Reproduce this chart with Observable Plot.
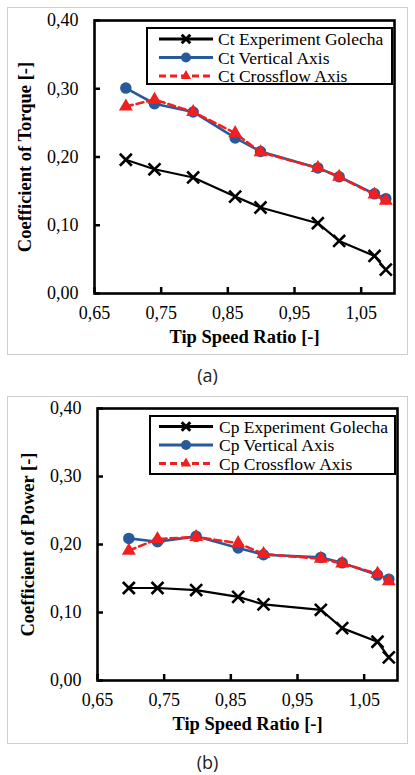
<!DOCTYPE html>
<html>
<head>
<meta charset="utf-8">
<script src="https://cdn.jsdelivr.net/npm/d3@7"></script>
<script src="https://cdn.jsdelivr.net/npm/@observablehq/plot@0.6"></script>
<style>
  html, body { margin: 0; padding: 0; background: #fff; }
  #wrap { position: relative; width: 415px; height: 775px; overflow: hidden; }
  .panel { position: absolute; left: 7px; width: 399px; height: 346px; border: 1px solid #cfcfcf; box-sizing: content-box; }
  .chart { position: absolute; left: 0; }
  .cap { position: absolute; left: 0; width: 415px; text-align: center; font-family: "Open Sans", sans-serif; font-size: 18px; color: #222; line-height: 20px; }
</style>
</head>
<body>
<div id="wrap">
  <div class="panel" style="top:7px"></div>
  <div class="panel" style="top:396px"></div>
  <div id="chartA" class="chart" style="top:0px"></div>
  <div class="cap" style="top:365px">(a)</div>
  <div id="chartB" class="chart" style="top:389px"></div>
  <div class="cap" style="top:752px">(b)</div>
</div>
<script>
// ---- data ----
const tsr = [0.697, 0.740, 0.798, 0.861, 0.899, 0.985, 1.017, 1.070, 1.087];

const ctExperiment = [0.196, 0.182, 0.170, 0.142, 0.126, 0.103, 0.077, 0.055, 0.035];
const ctVertical   = [0.301, 0.278, 0.266, 0.228, 0.208, 0.184, 0.171, 0.146, 0.139];
const ctCrossflow  = [0.274, 0.284, 0.266, 0.235, 0.207, 0.184, 0.171, 0.145, 0.136];

const cpExperiment = [0.136, 0.136, 0.133, 0.123, 0.112, 0.104, 0.077, 0.057, 0.034];
const cpVertical   = [0.209, 0.204, 0.212, 0.195, 0.185, 0.181, 0.173, 0.155, 0.149];
const cpCrossflow  = [0.191, 0.208, 0.211, 0.202, 0.186, 0.179, 0.172, 0.157, 0.146];

const xTicks = [0.65, 0.75, 0.85, 0.95, 1.05];
const yTicks = [0.00, 0.10, 0.20, 0.30, 0.40];

const ctNames = ["Ct Experiment Golecha", "Ct Vertical Axis", "Ct Crossflow Axis"];
const cpNames = ["Cp Experiment Golecha", "Cp Vertical Axis", "Cp Crossflow Axis"];

const xLabel = "Tip Speed Ratio [-]";
const ctLabel = "Coefficient of Torque [-]";
const cpLabel = "Coefficient of Power [-]";

// ---- styles ----
const BLACK = "#000000", BLUE = "#285a9b", RED = "#f02020";
const SERIF = "'Liberation Serif', 'Times New Roman', serif";
const fmt = d => d.toFixed(2).replace(".", ",");

function build(el, {names, exp, vert, cross, yLab, mTop, mBottom, mLeft, mRight, legend}) {
  const rows = (vals, s) => tsr.map((x, i) => ({x, y: vals[i], s}));
  const dExp = rows(exp, names[0]), dVert = rows(vert, names[1]), dCross = rows(cross, names[2]);
  const chart = Plot.plot({
    width: 415, height: 360,
    marginTop: mTop, marginBottom: mBottom, marginLeft: mLeft, marginRight: mRight,
    style: {fontFamily: SERIF, fontSize: "18px", background: "transparent", color: "#000"},
    x: {domain: [0.65, 1.10]},
    y: {domain: [0, 0.40]},
    marks: [
      // tick labels
      Plot.axisX(xTicks, {tickSize: 0, tickPadding: 13, tickFormat: fmt, fontSize: 18, label: null}),
      Plot.axisY(yTicks, {tickSize: 0, tickPadding: 16, tickFormat: fmt, fontSize: 18, label: null}),
      // inward ticks
      Plot.axisX(xTicks, {tickSize: 6, dy: -6, text: null, strokeWidth: 2.5, label: null}),
      Plot.axisY(yTicks, {tickSize: 6, dx: 6, text: null, strokeWidth: 2.5, label: null}),
      // axis titles
      Plot.text([xLabel], {frameAnchor: "bottom", dy: 49, fontWeight: "bold", fontSize: 18.5, textAnchor: "middle"}),
      Plot.text([yLab], {frameAnchor: "left", dx: -69, rotate: -90, fontWeight: "bold", fontSize: 18.5, textAnchor: "middle"}),
      // experiment
      Plot.line(dExp, {x: "x", y: "y", stroke: BLACK, strokeWidth: 2.2}),
      Plot.dot(dExp, {x: "x", y: "y", symbol: "times", r: 5.5, stroke: BLACK, strokeWidth: 2.6}),
      // vertical axis
      Plot.line(dVert, {x: "x", y: "y", stroke: BLUE, strokeWidth: 2.6}),
      Plot.dot(dVert, {x: "x", y: "y", symbol: "circle", r: 5, fill: BLUE, stroke: BLUE}),
      // crossflow
      Plot.line(dCross, {x: "x", y: "y", stroke: RED, strokeWidth: 2.6, strokeDasharray: "7,4"}),
      Plot.dot(dCross, {x: "x", y: "y", symbol: "triangle", r: 4.2, fill: RED, stroke: RED}),
      Plot.frame({stroke: BLACK, strokeWidth: 2.6})
    ]
  });
  // legend
  const svg = d3.select(chart);
  const g = svg.append("g").attr("font-family", SERIF).attr("font-size", 17.5).attr("text-anchor", "start");
  const L = legend;
  g.append("rect").attr("x", L.x0).attr("y", L.y0).attr("width", L.x1 - L.x0).attr("height", L.y1 - L.y0)
    .attr("fill", "#fff").attr("stroke", "#000").attr("stroke-width", 2);
  const items = [
    {name: names[0], color: BLACK, dash: null, sym: "x"},
    {name: names[1], color: BLUE, dash: null, sym: "o"},
    {name: names[2], color: RED, dash: "7,4", sym: "t"}
  ];
  items.forEach((it, i) => {
    const y = L.rows[i];
    g.append("line").attr("x1", L.lx0).attr("x2", L.lx1).attr("y1", y).attr("y2", y)
      .attr("stroke", it.color).attr("stroke-width", 2.8).attr("stroke-dasharray", it.dash);
    const mx = (L.lx0 + L.lx1) / 2;
    const sym = it.sym === "x" ? d3.symbolTimes : it.sym === "o" ? d3.symbolCircle : d3.symbolTriangle;
    const p = g.append("path").attr("transform", `translate(${mx},${y})`)
      .attr("d", d3.symbol(sym, it.sym === "o" ? 78 : it.sym === "t" ? 45 : 50)());
    if (it.sym === "x") p.attr("fill", "none").attr("stroke", it.color).attr("stroke-width", 3);
    else p.attr("fill", it.color);
    g.append("text").attr("x", L.tx).attr("y", y).attr("dy", "0.35em").attr("fill", "#000")
      .attr("text-anchor", "start").text(it.name);
  });
  document.getElementById(el).appendChild(chart);
}

build("chartA", {
  names: ctNames, exp: ctExperiment, vert: ctVertical, cross: ctCrossflow, yLab: ctLabel,
  mTop: 20, mBottom: 67, mLeft: 94, mRight: 21,
  legend: {x0: 147, x1: 392, y0: 28, y1: 84, rows: [39, 57.5, 76], lx0: 159, lx1: 213, tx: 218}
});
build("chartB", {
  names: cpNames, exp: cpExperiment, vert: cpVertical, cross: cpCrossflow, yLab: cpLabel,
  mTop: 19, mBottom: 69, mLeft: 97, mRight: 18,
  legend: {x0: 150, x1: 395, y0: 27, y1: 85, rows: [37.5, 56, 74.5], lx0: 159, lx1: 213, tx: 219}
});
</script>
</body>
</html>
